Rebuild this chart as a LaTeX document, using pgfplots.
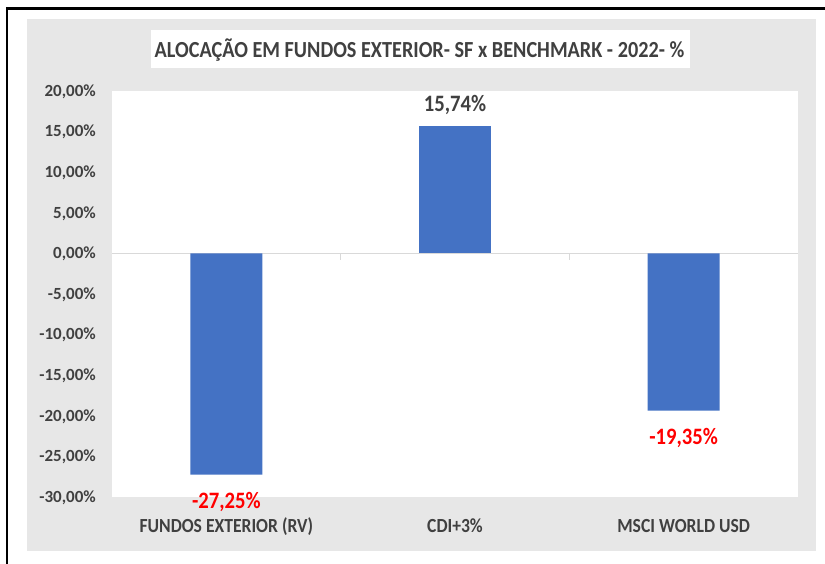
\documentclass[border=0pt]{standalone}
\usepackage{fontspec}
\setmainfont{Carlito}
\newfontfamily\condfont{Carlito}[FakeStretch=0.88]
\usepackage{pgfplots}
\pgfplotsset{compat=1.18}
\definecolor{barblue}{HTML}{4472C4}
\definecolor{panel}{HTML}{E7E7E7}
\definecolor{txt}{HTML}{404040}
\definecolor{zline}{HTML}{D9D9D9}
\begin{document}
\begin{tikzpicture}[x=1pt,y=1pt]
\useasboundingbox (0,0) rectangle (825,564);
\fill[white] (0,0) rectangle (825,564);
\fill[panel] (27,13) rectangle (816,545);
\draw[black, line width=2.5pt] (7,0) -- (7,555.5) -- (825,555.5);
\fill[white] (151,496) rectangle (690,534);
\node[anchor=base, inner sep=0pt, text=txt, font=\condfont\bfseries\fontsize{23}{23}\selectfont] at (419.5,506.7) {ALOCAÇÃO EM FUNDOS EXTERIOR- SF x BENCHMARK - 2022- \%};
\begin{axis}[
  at={(112pt,67pt)}, anchor=south west,
  scale only axis, width=686pt, height=406pt,
  xmin=-0.5, xmax=2.5, ymin=-30, ymax=20,
  axis background/.style={fill=white},
  axis line style={draw=none},
  major tick length=0pt,
  clip=false,
  ybar, bar width=72pt, bar shift=0pt,
  xtick={0,1,2},
  xticklabels={FUNDOS EXTERIOR (RV), CDI+3\%, MSCI WORLD USD},
  ytick={-30,-25,...,20},
  yticklabels={{-30,00\%},{-25,00\%},{-20,00\%},{-15,00\%},{-10,00\%},{-5,00\%},{0,00\%},{5,00\%},{10,00\%},{15,00\%},{20,00\%}},
  xticklabel style={anchor=base, yshift=-36pt, text=txt, font=\condfont\bfseries\fontsize{20}{20}\selectfont},
  yticklabel style={anchor=base east, inner sep=0pt, xshift=-16pt, yshift=-5.4pt, text=txt, font=\bfseries\fontsize{17}{17}\selectfont},
]
\draw[zline, line width=1pt] (axis cs:-0.5,0) -- (axis cs:2.5,0);
\draw[zline, line width=1pt] (axis cs:0.5,0) -- ([yshift=-7pt]axis cs:0.5,0);
\draw[zline, line width=1pt] (axis cs:1.5,0) -- ([yshift=-7pt]axis cs:1.5,0);
\addplot[fill=barblue, draw=none, nodes near coords, point meta=explicit symbolic,
  every node near coord/.style={anchor=base, yshift=14.5pt, inner sep=0pt, text=txt, font=\condfont\bfseries\fontsize{23.5}{23.5}\selectfont}]
  coordinates {(1,15.74) [15,74\%]};
\addplot[fill=barblue, draw=none, nodes near coords, point meta=explicit symbolic,
  every node near coord/.style={anchor=base, yshift=-33.5pt, inner sep=0pt, text=red, font=\condfont\bfseries\fontsize{23.5}{23.5}\selectfont}]
  coordinates {(0,-27.25) [-27,25\%] (2,-19.35) [-19,35\%]};
\end{axis}
\end{tikzpicture}
\end{document}
